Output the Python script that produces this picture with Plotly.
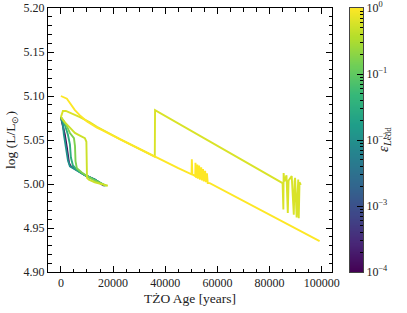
import numpy as np
import plotly.graph_objects as go
from plotly.colors import sample_colorscale

# ---- data ----
age_e4 = [0, 800, 1500, 2300, 2700, 3100, 3800, 5800, 9200, 13000, 16500]
logL_e4 = [5.076, 5.067, 5.056, 5.041, 5.031, 5.024, 5.020, 5.016, 5.010, 5.005, 4.998]

age_e2 = [0, 770, 1150, 1900, 2700, 3450, 5800, 9200, 13000, 16900]
logL_e2 = [5.076, 5.067, 5.056, 5.041, 5.027, 5.020, 5.016, 5.010, 5.005, 4.998]

age_e3 = [0, 1530, 2700, 3450, 3830, 4600, 6500, 9200, 13000, 17000]
logL_e3 = [5.076, 5.067, 5.056, 5.045, 5.030, 5.021, 5.015, 5.010, 5.005, 4.998]

age_e15 = [0, 1900, 3450, 5000, 5400, 5600, 6100, 8000, 10000, 13000, 17500]
logL_e15 = [5.076, 5.068, 5.058, 5.052, 5.043, 5.026, 5.018, 5.013, 5.009, 5.004, 4.998]

age_e5 = [0, 1530, 3450, 5360, 7280, 9200, 9770, 9960, 10000, 10730, 13000, 15500, 18000]
logL_e5 = [5.076, 5.070, 5.064, 5.058, 5.055, 5.052, 5.048, 5.033, 5.007, 5.005, 5.002, 5.000, 4.998]

# eps = 0.6 track (jumps at ~36 kyr)
age_e6 = [0, 770, 1900, 3450, 7300, 11100, 13800, 22600, 30300, 36000,
          36100, 60000, 85000,
          85300, 85400, 85700, 86500, 87000, 87300, 88500, 89300, 89600,
          89800, 90400, 90700, 91000, 91200, 91500, 92000]
logL_e6 = [5.076, 5.083, 5.083, 5.081, 5.076, 5.070, 5.065, 5.051, 5.0395, 5.031,
           5.084, 5.043, 5.001,
           4.971, 5.0125, 5.003, 5.010, 4.967, 5.004, 5.009, 4.965, 5.003,
           5.007, 4.962, 5.002, 5.005, 4.961, 5.002, 4.999]

# eps = 1 track (longest)
age_e1 = [0, 1000, 2300, 3450, 5360, 7300, 10000, 13800, 16000, 22600, 30300, 36000,
          45000, 50100, 50200, 50400, 51500, 51600, 51800, 52300, 52500, 53000,
          53300, 53800, 54100, 54500, 54800, 55300, 55600, 56000, 56300, 57100,
          72400, 87700, 99200]
logL_e1 = [5.100, 5.099, 5.097, 5.092, 5.084, 5.078, 5.071, 5.064, 5.061, 5.051, 5.0395, 5.031,
           5.018, 5.011, 5.028, 5.011, 5.009, 5.024, 5.007, 5.022, 5.006, 5.021,
           5.005, 5.019, 5.004, 5.017, 5.003, 5.015, 5.002, 5.012, 5.001, 5.001,
           4.977, 4.953, 4.935]

tracks = [
    (age_e4, logL_e4, 1e-4),
    (age_e2, logL_e2, 1e-2),
    (age_e3, logL_e3, 3e-2),
    (age_e15, logL_e15, 1.6e-1),
    (age_e5, logL_e5, 5e-1),
    (age_e6, logL_e6, 6e-1),
    (age_e1, logL_e1, 1.0),
]

x_major = [0, 20000, 40000, 60000, 80000, 100000]
y_major = [4.90, 4.95, 5.00, 5.05, 5.10, 5.15, 5.20]
cbar_decades = [-4, -3, -2, -1, 0]
cbar_labels = ["10<sup>−4</sup>", "10<sup>−3</sup>", "10<sup>−2</sup>", "10<sup>−1</sup>", "10<sup>0</sup>"]

X_RANGE = [-4950, 103950]
Y_RANGE = [4.90, 5.20]
x_minor = list(np.arange(0, 103950, 5000))
y_minor = [round(v, 2) for v in np.arange(4.90, 5.2001, 0.01)]

FONT = "Liberation Serif"
TXT = "#222222"

def eps_color(e):
    frac = (np.log10(e) + 4.0) / 4.0
    return sample_colorscale("Viridis", [frac])[0]

fig = go.Figure()
for ages, lum, e in tracks:
    fig.add_trace(go.Scatter(x=ages, y=lum, mode="lines",
                             line=dict(color=eps_color(e), width=1.9),
                             showlegend=False, hoverinfo="skip"))

# invisible helper trace for the minor-tick axes
fig.add_trace(go.Scatter(x=[0], y=[5.0], mode="markers", marker=dict(opacity=0),
                         xaxis="x3", yaxis="y4", showlegend=False, hoverinfo="skip"))

# colour bar built from a heatmap on its own axes
levels = np.linspace(-4, 0, 256)
fig.add_trace(go.Heatmap(z=[[v] for v in levels], x=[0], y=levels,
                         colorscale="Viridis", zmin=-4, zmax=0, showscale=False,
                         xaxis="x2", yaxis="y2", hoverinfo="skip"))
minor_vals = [d + np.log10(k) for d in range(-4, 0) for k in range(2, 10)]
fig.add_trace(go.Scatter(x=[0], y=[-2], mode="markers", marker=dict(opacity=0),
                         xaxis="x2", yaxis="y3", showlegend=False, hoverinfo="skip"))

L, R, T, B = 48, 44, 8, 41
W, H = 407, 313
pw = W - L - R
main_right = (332 - L) / pw
cb_left = (350 - L) / pw

tick_major = dict(ticks="inside", ticklen=6, tickwidth=1, tickcolor="#000")
tick_minor = dict(ticks="inside", ticklen=3.5, tickwidth=1, tickcolor="#000")
nogrid = dict(showgrid=False, zeroline=False, automargin=False)

fig.update_layout(
    width=W, height=H, margin=dict(l=L, r=R, t=T, b=B, autoexpand=False),
    plot_bgcolor="white", paper_bgcolor="white",
    xaxis=dict(domain=[0, main_right], range=X_RANGE,
               tickmode="array", tickvals=x_major, ticktext=[str(v) for v in x_major],
               showline=True, linecolor="black", linewidth=1, mirror="allticks",
               tickfont=dict(family=FONT, size=12, color=TXT),
               title=dict(text="TŻO Age [years]", font=dict(family=FONT, size=13.5, color=TXT), standoff=4),
               **tick_major, **nogrid),
    yaxis=dict(range=Y_RANGE,
               tickmode="array", tickvals=y_major, ticktext=[f"{v:.2f}" for v in y_major],
               showline=True, linecolor="black", linewidth=1, mirror="allticks",
               tickfont=dict(family=FONT, size=12, color=TXT),
               title=dict(text="log (L/L<sub>⊙</sub>)", font=dict(family=FONT, size=13.5, color=TXT), standoff=4),
               **tick_major, **nogrid),
    xaxis3=dict(domain=[0, main_right], range=X_RANGE, overlaying="x", anchor="y4",
                tickmode="array", tickvals=x_minor, showticklabels=False,
                showline=False, mirror="allticks", **tick_minor, **nogrid),
    yaxis4=dict(range=Y_RANGE, overlaying="y", anchor="x3",
                tickmode="array", tickvals=y_minor, showticklabels=False,
                showline=False, mirror="allticks", **tick_minor, **nogrid),
    xaxis2=dict(domain=[cb_left, 1], range=[-0.5, 0.5], anchor="y2", showticklabels=False,
                ticks="", showline=True, linecolor="#444", linewidth=1, mirror=True, **nogrid),
    yaxis2=dict(domain=[0, 1], range=[-4, 0], anchor="x2", side="right",
                tickmode="array", tickvals=cbar_decades, ticktext=cbar_labels,
                showline=True, linecolor="#444", linewidth=1, mirror=True,
                tickfont=dict(family=FONT, size=12, color=TXT),
                **tick_major, **nogrid),
    yaxis3=dict(range=[-4, 0], overlaying="y2", anchor="x2", side="right",
                tickmode="array", tickvals=minor_vals, showticklabels=False,
                showline=False, **tick_minor, **nogrid),
    annotations=[dict(text="<i>ε</i><sub><i>L</i><span style='font-size:9px'>edd</span></sub>",
                      xref="paper", yref="paper",
                      x=(395 - L) / pw, y=0.5, textangle=-90, showarrow=False,
                      font=dict(family=FONT, size=15, color=TXT))],
)

fig.write_html("out.html", config={"displayModeBar": False, "staticPlot": True},
               post_script="document.body.style.margin='0';document.body.style.padding='0';")
